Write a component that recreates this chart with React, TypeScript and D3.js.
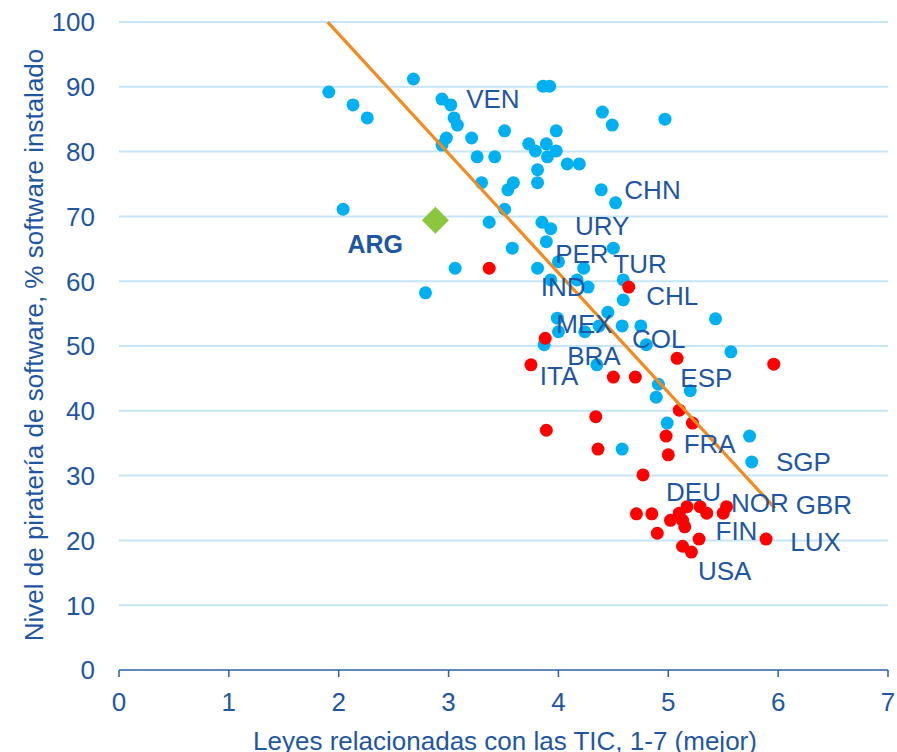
import React from "react";
import * as d3 from "d3";

const xTicks = [0, 1, 2, 3, 4, 5, 6, 7];
const yTicks = [0, 10, 20, 30, 40, 50, 60, 70, 80, 90, 100];

const blueX = [1.91, 2.13, 2.26, 2.68, 2.04, 2.79, 2.94, 3.02, 3.05, 3.08, 2.98, 2.94, 3.21, 3.26, 3.42, 3.30, 3.06, 3.37, 3.86, 3.92, 4.40, 4.49, 4.97, 3.51, 3.98, 3.73, 3.79, 3.89, 3.98, 3.90, 4.08, 4.19, 3.81, 3.81, 3.59, 3.54, 4.39, 4.52, 3.51, 3.85, 3.93, 3.58, 3.89, 4.50, 3.81, 4.00, 4.23, 3.93, 4.17, 4.27, 4.59, 4.59, 4.45, 3.99, 4.00, 4.24, 4.37, 4.58, 4.75, 4.80, 3.87, 4.35, 4.91, 4.89, 5.20, 4.99, 4.58, 5.43, 5.57, 5.74, 5.76];
const blueY = [89.2, 87.2, 85.2, 91.2, 71.1, 58.2, 88.1, 87.2, 85.2, 84.1, 82.1, 81.0, 82.1, 79.2, 79.2, 75.2, 62.0, 69.1, 90.1, 90.1, 86.1, 84.1, 85.0, 83.2, 83.2, 81.2, 80.1, 81.2, 80.1, 79.2, 78.1, 78.1, 77.2, 75.2, 75.2, 74.1, 74.1, 72.1, 71.1, 69.1, 68.1, 65.1, 66.1, 65.1, 62.0, 63.0, 62.0, 60.2, 60.2, 59.1, 60.2, 57.1, 55.2, 54.3, 52.2, 52.2, 53.1, 53.1, 53.1, 50.2, 50.2, 47.1, 44.1, 42.1, 43.1, 38.1, 34.1, 54.2, 49.1, 36.1, 32.1];

const redX = [3.37, 4.64, 3.88, 3.75, 5.08, 4.50, 4.70, 5.96, 5.10, 5.22, 4.34, 3.89, 4.98, 4.36, 5.00, 4.77, 4.71, 4.85, 5.02, 4.90, 5.10, 5.17, 5.13, 5.15, 5.29, 5.35, 5.50, 5.53, 5.28, 5.13, 5.21, 5.89];
const redY = [62.0, 59.1, 51.2, 47.1, 48.1, 45.2, 45.2, 47.2, 40.1, 38.1, 39.1, 37.0, 36.1, 34.1, 33.2, 30.1, 24.1, 24.1, 23.1, 21.1, 24.2, 25.2, 23.1, 22.1, 25.2, 24.2, 24.2, 25.2, 20.2, 19.1, 18.2, 20.2];

const argX = 2.88;
const argY = 69.4;

const trendX = [1.9, 5.97];
const trendIntercept = 135.0;
const trendSlope = -18.43;

const labelNames = ["VEN", "CHN", "URY", "PER", "TUR", "IND", "CHL", "MEX", "COL", "BRA", "ITA", "ESP", "FRA", "SGP", "DEU", "NOR", "GBR", "FIN", "LUX", "USA"];
const labelX = [3.16, 4.60, 4.15, 3.97, 4.50, 3.84, 4.80, 3.98, 4.67, 4.08, 3.83, 5.11, 5.14, 5.98, 4.98, 5.57, 6.16, 5.43, 6.11, 5.27];
const labelY = [88.2, 74.1, 68.5, 64.2, 62.7, 59.1, 57.7, 53.5, 51.1, 48.5, 45.5, 45.1, 34.9, 32.1, 27.6, 25.8, 25.5, 21.45, 19.75, 15.4];
const argLabel = "ARG";
const argLabelX = 2.08;
const argLabelY = 65.7;

const xTitle = "Leyes relacionadas con las TIC, 1-7 (mejor)";
const yTitle = "Nivel de piratería de software, % software instalado";

export default function App() {
  const W = 897, H = 752;
  const x = d3.scaleLinear().domain([0, 7]).range([119, 888]);
  const y = d3.scaleLinear().domain([0, 100]).range([670, 22]);
  const font = "'Liberation Sans', Arial, sans-serif";
  const textCol = "#1f56a3";
  const axisCol = "#2b5fa5";
  const line = d3.line<number>().x((d) => x(d)).y((d) => y(trendIntercept + trendSlope * d));
  const r = 6.5;
  const dsz = 13.5;
  return (
    <svg width={W} height={H} style={{ position: "absolute", left: 0, top: 0 }} fontFamily={font}>
      <rect width={W} height={H} fill="#fff" />
      {yTicks.filter((t) => t > 0).map((t) => (
        <line key={t} x1={x(0)} x2={x(7)} y1={y(t)} y2={y(t)} stroke="#c3e5f6" strokeWidth={2} />
      ))}
      <line x1={x(0)} x2={x(7)} y1={y(0)} y2={y(0)} stroke={axisCol} strokeWidth={1.5} />
      {xTicks.map((t) => (
        <line key={t} x1={x(t)} x2={x(t)} y1={y(0)} y2={y(0) + 7} stroke={axisCol} strokeWidth={1.5} />
      ))}
      {yTicks.map((t) => (
        <text key={t} x={95} y={y(t)} dy="0.36em" textAnchor="end" fontSize={26} fill={textCol}>{t}</text>
      ))}
      {xTicks.map((t) => (
        <text key={t} x={x(t)} y={711} textAnchor="middle" fontSize={26} fill={textCol}>{t}</text>
      ))}
      <text x={505} y={750} textAnchor="middle" fontSize={26} fill={textCol}>{xTitle}</text>
      <text transform={`translate(43,${345}) rotate(-90)`} textAnchor="middle" fontSize={26} fill={textCol}>{yTitle}</text>
      {blueX.map((v, i) => (
        <circle key={"b" + i} cx={x(v)} cy={y(blueY[i])} r={r} fill="#00b0f0" />
      ))}
      {redX.map((v, i) => (
        <circle key={"r" + i} cx={x(v)} cy={y(redY[i])} r={r} fill="#ff0000" />
      ))}
      <path d={line(trendX) || ""} stroke="#f28a1e" strokeWidth={3.2} fill="none" />
      <path
        d={`M${x(argX)},${y(argY) - dsz} L${x(argX) + dsz},${y(argY)} L${x(argX)},${y(argY) + dsz} L${x(argX) - dsz},${y(argY)} Z`}
        fill="#8cc63e"
      />
      {labelNames.map((n, i) => (
        <text key={n} x={x(labelX[i])} y={y(labelY[i])} dy="0.36em" fontSize={26} fill={textCol}>{n}</text>
      ))}
      <text x={x(argLabelX)} y={y(argLabelY)} dy="0.36em" fontSize={25} fontWeight="bold" fill={textCol}>{argLabel}</text>
    </svg>
  );
}
